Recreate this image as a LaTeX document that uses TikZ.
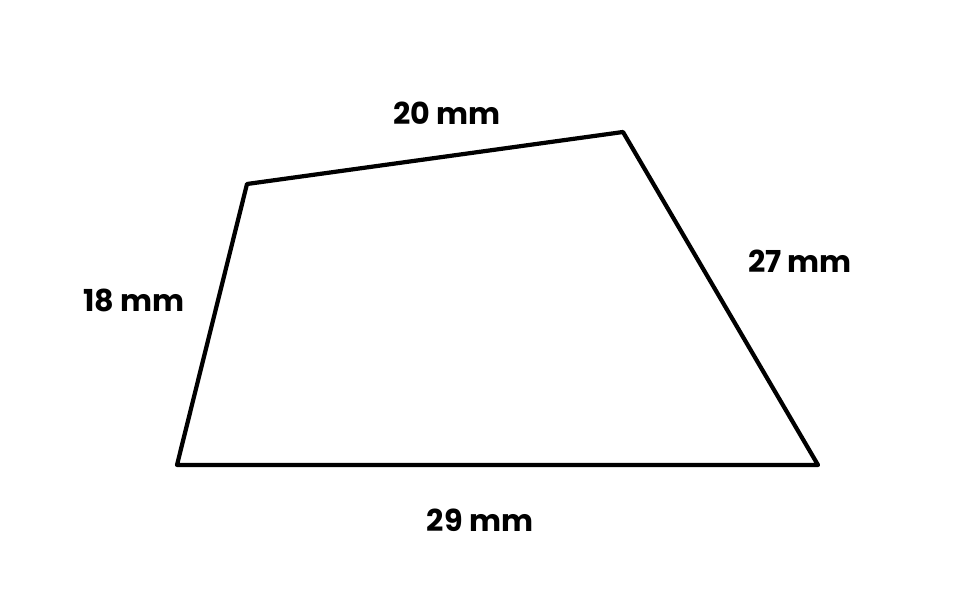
\documentclass[tikz,border=0pt]{standalone}
\usepackage{fontspec}
\setmainfont{Poppins}
\usetikzlibrary{positioning}

\begin{document}
\begin{tikzpicture}[line cap=round,line join=round]
        \tikzset{side/.style={line width=1.2pt,black},
                 len/.style={font=\fontsize{8.6}{10}\selectfont\bfseries}}
        \useasboundingbox (0,0) rectangle (9.6,6);

        % corners of the shape
        \coordinate (topleft) at (2.47,4.16);
        \coordinate (topright) at (6.23,4.68);
        \coordinate (botright) at (8.18,1.35);
        \coordinate (botleft) at (1.77,1.35);

        % the four sides
        \draw[side] (topleft) -- (topright) -- (botright) -- (botleft) -- cycle;

        % side lengths
        \node[len] (top) at (4.47,4.87) {20 mm};
        \node[len] (right) at (8.00,3.39) {27 mm};
        \node[len] (left) at (1.34,3.00) {18 mm};
        \node[len] (bottom) at (4.80,0.80) {29 mm};
\end{tikzpicture}
\end{document}
